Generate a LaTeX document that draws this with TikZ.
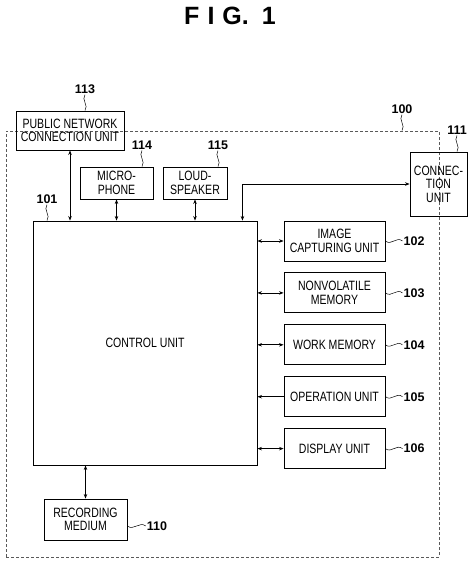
\documentclass[tikz,border=0pt]{standalone}
\usepackage{fontspec}
\setmainfont{Liberation Sans}
\newfontfamily\narrowfont{Liberation Sans}[FakeStretch=0.78]
\usepackage{tikz}
\usetikzlibrary{arrows.meta,positioning}

\tikzset{
  unit/.style={draw,line width=0.9pt,align=center,inner sep=1pt,
    font=\narrowfont\fontsize{13.5}{13.5}\selectfont},
  ref/.style={font=\bfseries\fontsize{12.5}{13}\selectfont,inner sep=1pt},
  lead/.style={line width=0.5pt},
  bus/.style={line width=0.8pt,{Stealth[length=4.5pt,width=3.5pt]}-{Stealth[length=4.5pt,width=3.5pt]}},
  onebus/.style={line width=0.8pt,-{Stealth[length=4.5pt,width=3.5pt]}}
}

\begin{document}
\begin{tikzpicture}[x=1pt,y=1pt,node distance = 11pt]
\useasboundingbox (0,0) rectangle (474,-564);
\node[font=\bfseries\fontsize{25}{25}\selectfont] (title) at (230,-16)
  {F\hspace{8pt}I\hspace{8pt}G.\hspace{13pt}1};

\node[draw,dashed,gray!70!black,line width=0.8pt,dash pattern=on 3pt off 2pt,
  minimum width=433pt,minimum height=426pt] (dev) at (222.5,-344) {};

\node[unit,minimum width=108pt,minimum height=39pt] (pub) at (70,-130.5) {PUBLIC NETWORK\\CONNECTION UNIT};
\node[unit,minimum width=73pt,minimum height=32pt] (mic) at (116.5,-183) {MICRO-\\PHONE};
\node[unit,minimum width=64pt,minimum height=32pt] (spk) at (195,-183) {LOUD-\\SPEAKER};
\node[unit,minimum width=57pt,minimum height=64pt,inner sep=0pt] (conn) at (438.5,-184) {CONNEC-\\TION\\UNIT};
\node[unit,minimum width=224pt,minimum height=244pt] (ctrl) at (145,-343) {CONTROL UNIT};
\node[unit,minimum width=83pt,minimum height=41pt] (rec) at (85.5,-519.5) {RECORDING\\MEDIUM};

\node[unit,minimum width=101pt,minimum height=40pt] (img) at (334.5,-241) {IMAGE\\CAPTURING UNIT};
\node[unit,minimum width=101pt,minimum height=40pt] (nvm) [below=of img] {NONVOLATILE\\MEMORY};
\node[unit,minimum width=101pt,minimum height=40pt] (wm) [below=of nvm] {WORK MEMORY};
\node[unit,minimum width=101pt,minimum height=40pt] (op) [below=of wm] {OPERATION UNIT};
\node[unit,minimum width=101pt,minimum height=40pt] (disp) [below=of op] {DISPLAY UNIT};

% reference numerals
\node[ref] (n100) at (402,-109) {100};
\node[ref] (n101) at (47,-199) {101};
\node[ref] (n102) [right=17pt of img] {102};
\node[ref] (n103) [right=17pt of nvm] {103};
\node[ref] (n104) [right=17pt of wm] {104};
\node[ref] (n105) [right=17pt of op] {105};
\node[ref] (n106) [right=17pt of disp] {106};
\node[ref] (n110) at (157,-526) {110};
\node[ref] (n111) at (457,-130) {111};
\node[ref] (n113) at (85,-89) {113};
\node[ref] (n114) at (142,-145) {114};
\node[ref] (n115) at (218,-145) {115};

\foreach \u/\n in {img/n102,nvm/n103,wm/n104,op/n105,disp/n106}
  \draw[lead] (\u.east) .. controls +(6,-5) and +(-6,5) .. (\n.west);
\draw[lead] (rec.east |- n110.west) .. controls +(6,-5) and +(-6,5) .. (n110.west);
\foreach \n/\u in {n100/dev,n101/ctrl,n111/conn,n113/pub,n114/mic,n115/spk}
  \draw[lead] (\n.south) .. controls +(-4,-5) and +(4,5) .. (\n.south |- \u.north);

% connections
\draw[bus] (pub.south) -- (pub.south |- ctrl.north);
\draw[bus] (mic.south) -- (mic.south |- ctrl.north);
\draw[bus] (spk.south) -- (spk.south |- ctrl.north);
\draw[bus] (conn.west) -| ([xshift=-15pt]ctrl.north east);
\draw[bus] (rec.north) -- (rec.north |- ctrl.south);
\foreach \u in {img,nvm,wm,disp}
  \draw[bus] (\u.west) -- (ctrl.east |- \u.west);
\draw[onebus] (op.west) -- (ctrl.east |- op.west);
\end{tikzpicture}
\end{document}
